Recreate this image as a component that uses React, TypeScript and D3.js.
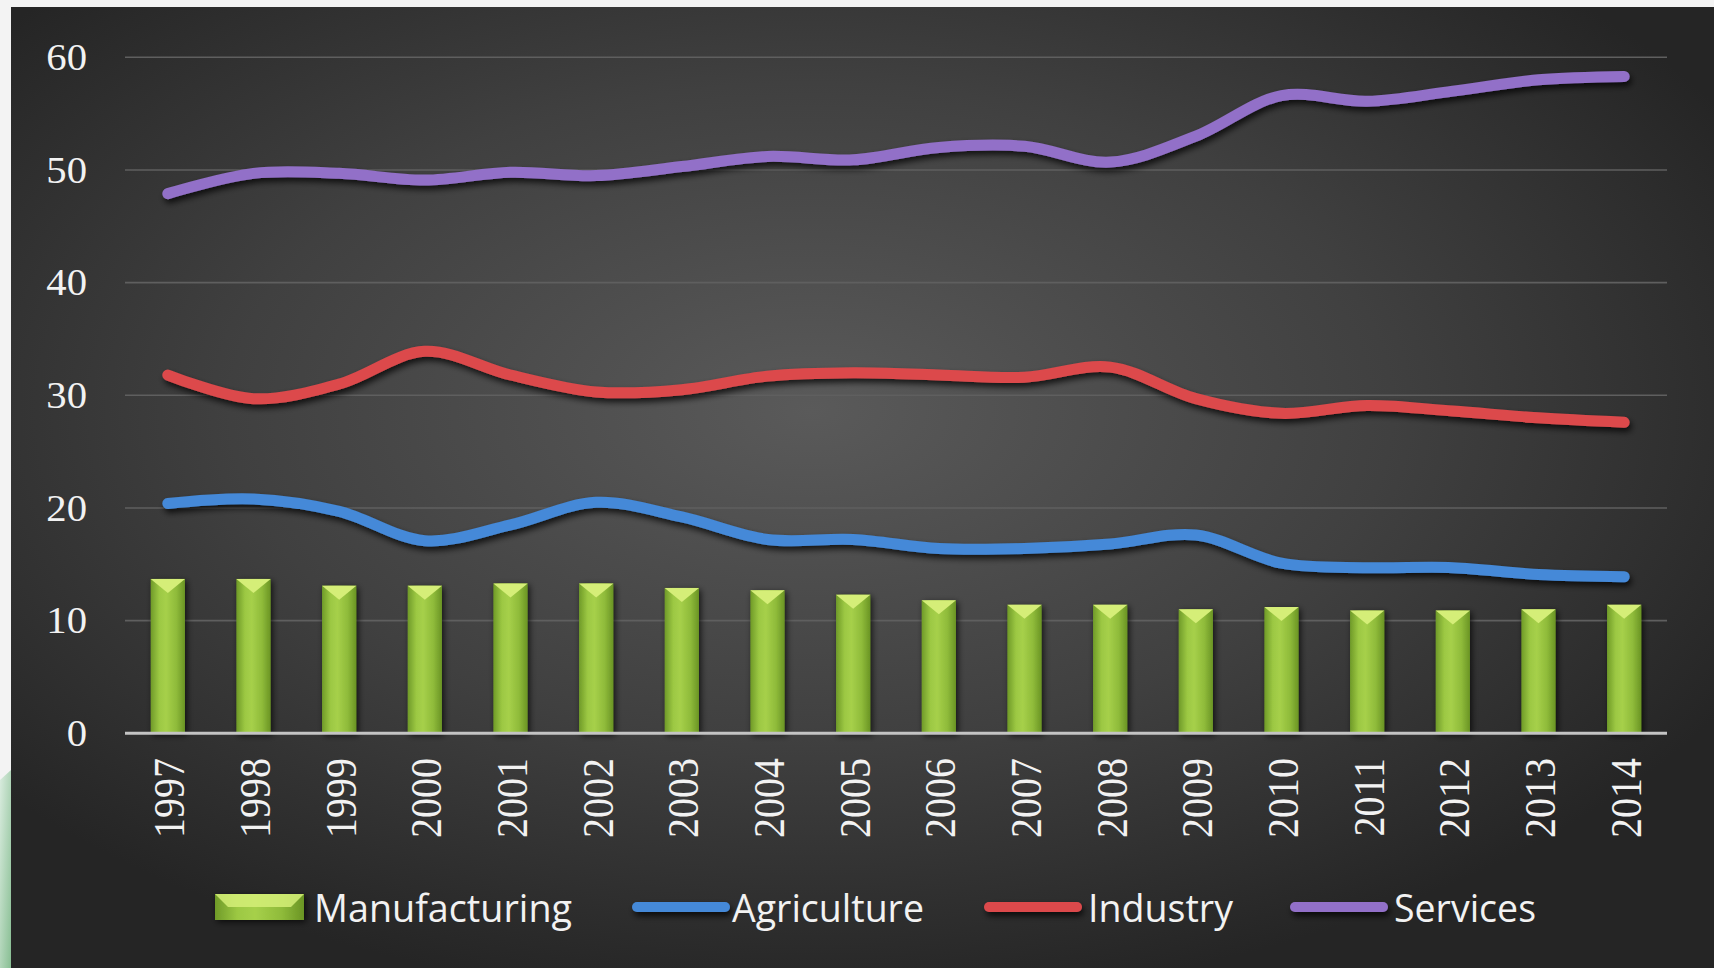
import React from "react";
import * as d3 from "d3";

const years = ["1997","1998","1999","2000","2001","2002","2003","2004","2005","2006","2007","2008","2009","2010","2011","2012","2013","2014"];
const manufacturing = [13.7,13.7,13.1,13.1,13.3,13.3,12.9,12.7,12.3,11.8,11.4,11.4,11.0,11.2,10.9,10.9,11.0,11.4];
const agriculture = [20.4,20.8,19.7,17.1,18.5,20.5,19.2,17.2,17.2,16.4,16.4,16.8,17.6,15.1,14.7,14.7,14.1,13.9];
const industry = [31.8,29.7,31.0,33.9,31.8,30.3,30.5,31.7,32.0,31.8,31.6,32.5,29.7,28.4,29.1,28.6,28.0,27.6];
const services = [47.9,49.7,49.7,49.1,49.8,49.5,50.3,51.2,50.9,52.0,52.1,50.7,53.0,56.6,56.1,57.0,58.0,58.3];
const yTicks = [0,10,20,30,40,50,60];

const lineSeries = [
  { name: "Agriculture", values: agriculture, color: "#4489d8" },
  { name: "Industry", values: industry, color: "#dc4a4c" },
  { name: "Services", values: services, color: "#9270c8" },
];

const W = 1714, H = 968;
const left = 125, right = 1667, top = 57.3, bottom = 733.3;

export default function App() {
  const x = d3.scaleBand<string>().domain(years).range([left, right]).paddingInner(0.6).paddingOuter(0.3);
  const y = d3.scaleLinear().domain([0, 60]).range([bottom, top]);
  const cx = (i: number) => (x(years[i]) as number) + x.bandwidth() / 2;
  const line = d3.line<number>().x((_, i) => cx(i)).y((d) => y(d)).curve(d3.curveCatmullRom.alpha(0.5));

  const legend = [
    { name: "Manufacturing", kind: "bar", sx: 215, sw: 89, tx: 314, tw: 258 },
    { name: "Agriculture", kind: "line", color: lineSeries[0].color, sx: 632, sw: 98, tx: 732, tw: 192 },
    { name: "Industry", kind: "line", color: lineSeries[1].color, sx: 984, sw: 98, tx: 1088, tw: 145 },
    { name: "Services", kind: "line", color: lineSeries[2].color, sx: 1290, sw: 98, tx: 1394, tw: 142 },
  ];
  const legY = 907;

  return (
    <div style={{ position: "fixed", left: 0, top: 0 }}>
      <svg width={W} height={H} viewBox={`0 0 ${W} ${H}`} style={{ display: "block" }}>
        <defs>
          <radialGradient id="bg" cx="0.47" cy="0.42" r="0.62">
            <stop offset="0" stopColor="#5a5a5a" />
            <stop offset="0.55" stopColor="#404040" />
            <stop offset="1" stopColor="#252525" />
          </radialGradient>
          <linearGradient id="barG" x1="0" x2="1" y1="0" y2="0">
            <stop offset="0" stopColor="#6f9a28" />
            <stop offset="0.25" stopColor="#9cc843" />
            <stop offset="0.45" stopColor="#a6d04a" />
            <stop offset="0.75" stopColor="#8fbb3a" />
            <stop offset="1" stopColor="#6a9424" />
          </linearGradient>
          <linearGradient id="leafG" x1="0" x2="1" y1="0" y2="1">
            <stop offset="0" stopColor="#cfe9d6" />
            <stop offset="1" stopColor="#5aa86a" />
          </linearGradient>
          <filter id="sh" filterUnits="userSpaceOnUse" x={0} y={0} width={W} height={H}>
            <feDropShadow dx="2" dy="4" stdDeviation="3" floodColor="#000" floodOpacity="0.75" />
          </filter>
          <filter id="shb" filterUnits="userSpaceOnUse" x={0} y={0} width={W} height={H}>
            <feDropShadow dx="2" dy="2" stdDeviation="3" floodColor="#000" floodOpacity="0.7" />
          </filter>
        </defs>
        <rect x={0} y={0} width={W} height={H} fill="#f3f3f3" />
        <polygon points={`0,780 11,770 11,968 0,968`} fill="url(#leafG)" opacity={0.7} />
        <rect x={11} y={7} width={W - 11} height={H - 7} fill="url(#bg)" />

        {yTicks.filter((t) => t > 0).map((t) => (
          <line key={t} x1={left} x2={right} y1={y(t)} y2={y(t)} stroke="#5f5f5f" strokeWidth={1.6} />
        ))}
        {yTicks.map((t) => (
          <text key={t} x={0} y={0} transform={`translate(87,${y(t)}) scale(1.1,1)`} textAnchor="end" dominantBaseline="central"
            fontFamily="'Liberation Serif', 'DejaVu Serif', serif" fontSize={37} fill="#f2f2f2">{t}</text>
        ))}

        {manufacturing.map((v, i) => {
          const x0 = x(years[i]) as number;
          const bw = x.bandwidth();
          const yt = y(v);
          return (
            <g key={i} filter="url(#shb)">
              <rect x={x0} y={yt} width={bw} height={bottom - yt} fill="url(#barG)" />
              <polygon points={`${x0},${yt} ${x0 + bw},${yt} ${x0 + bw / 2},${yt + 14}`} fill="#d5ee78" />
            </g>
          );
        })}

        <line x1={left} x2={right} y1={bottom} y2={bottom} stroke="#c4c4c4" strokeWidth={3} />

        {lineSeries.map((s) => (
          <path key={s.name} d={line(s.values) as string} fill="none" stroke={s.color} strokeWidth={11}
            strokeLinecap="round" strokeLinejoin="round" filter="url(#sh)" />
        ))}

        {years.map((yr, i) => (
          <text key={yr} x={0} y={0} transform={`translate(${cx(i) + 2},758) scale(1.1,1) rotate(-90)`} textAnchor="end" dominantBaseline="central"
            fontFamily="'Liberation Serif', 'DejaVu Serif', serif" fontSize={40} fill="#f2f2f2">{yr}</text>
        ))}

        {legend.map((l) => (
          <g key={l.name}>
            {l.kind === "bar" ? (
              <g filter="url(#shb)">
                <rect x={l.sx} y={legY - 13} width={l.sw} height={26} fill="url(#barG)" />
                <polygon points={`${l.sx},${legY - 13} ${l.sx + l.sw},${legY - 13} ${l.sx + l.sw - 13},${legY} ${l.sx + 13},${legY}`} fill="#d5ee78" opacity={0.85} />
              </g>
            ) : (
              <line x1={l.sx + 5} x2={l.sx + l.sw - 5} y1={legY} y2={legY} stroke={l.color} strokeWidth={10} strokeLinecap="round" filter="url(#sh)" />
            )}
            <text x={l.tx} y={legY} dominantBaseline="central" textLength={l.tw} lengthAdjust="spacingAndGlyphs"
              fontFamily="'Open Sans', Lato, sans-serif" fontSize={38} fill="#f2f2f2">{l.name}</text>
          </g>
        ))}
      </svg>
    </div>
  );
}
